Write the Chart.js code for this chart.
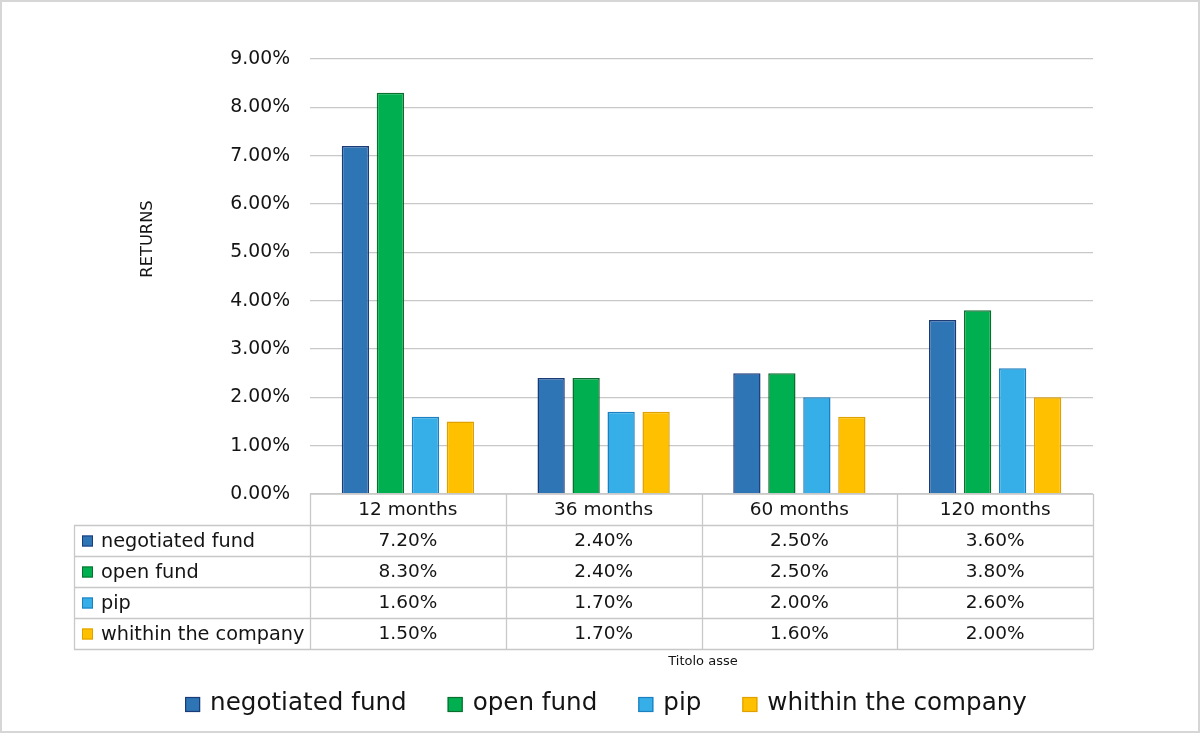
<!DOCTYPE html>
<html>
<head>
<meta charset="utf-8">
<script src="https://cdn.jsdelivr.net/npm/chart.js@4"></script>
<style>
  html, body { margin: 0; padding: 0; background: #fff; }
  #wrap { width: 1200px; height: 733px; position: relative; }
</style>
</head>
<body>
<div id="wrap"><canvas id="c"></canvas></div>
<script>
const categories = ['12 months', '36 months', '60 months', '120 months'];
const seriesNames = ['negotiated fund', 'open fund', 'pip', 'whithin the company'];
const negotiatedFund = [7.2, 2.4, 2.5, 3.6];
const openFund = [8.3, 2.4, 2.5, 3.8];
const pip = [1.6, 1.7, 2.0, 2.6];
const withinCompany = [1.5, 1.7, 1.6, 2.0];
const yTicks = [0, 1, 2, 3, 4, 5, 6, 7, 8, 9];
const yTitle = 'RETURNS';
const xTitle = 'Titolo asse';

const fills = ['#2e75b6', '#00b050', '#36aee8', '#ffc000'];
const borders = ['#1a3a78', '#0a6e2e', '#1b7fc0', '#e0a000'];
const seriesData = [negotiatedFund, openFund, pip, withinCompany];
const FONT = '"DejaVu Sans", "Open Sans", sans-serif';
const TXT = '#141414';
const GRID = '#c8c8c8';
const fmt = v => v.toFixed(2) + '%';

const decorPlugin = {
  id: 'decor',
  beforeDraw(chart) {
    const ctx = chart.ctx;
    ctx.save();
    ctx.fillStyle = '#fff';
    ctx.fillRect(0, 0, chart.width, chart.height);
    ctx.strokeStyle = '#d6d6d6';
    ctx.lineWidth = 2;
    ctx.strokeRect(1, 1, chart.width - 2, chart.height - 2);
    ctx.restore();
  },
  afterDraw(chart) {
    const ctx = chart.ctx;
    const ca = chart.chartArea;
    const xs = chart.scales.x;
    const n = categories.length;
    const cw = (ca.right - ca.left) / n;
    const rowH = 31;
    const tableLeft = 74;
    const top = ca.bottom;
    const bounds = [];
    for (let i = 0; i <= n; i++) bounds.push(i < n ? xs.getPixelForValue(i) - cw / 2 : xs.getPixelForValue(n - 1) + cw / 2);
    ctx.save();
    ctx.strokeStyle = GRID;
    ctx.lineWidth = 1.3;
    ctx.beginPath();
    ctx.moveTo(bounds[0], top); ctx.lineTo(bounds[n], top);
    for (let r = 1; r <= seriesNames.length + 1; r++) {
      const y = Math.round(top + r * rowH) + 0.5;
      ctx.moveTo(tableLeft, y); ctx.lineTo(bounds[n], y);
    }
    const bottom = top + (seriesNames.length + 1) * rowH;
    for (let i = 0; i <= n; i++) {
      const x = Math.round(bounds[i]) + 0.5;
      ctx.moveTo(x, top); ctx.lineTo(x, bottom + 0.5);
    }
    ctx.moveTo(tableLeft + 0.5, top + rowH); ctx.lineTo(tableLeft + 0.5, bottom + 0.5);
    ctx.stroke();

    ctx.fillStyle = TXT;
    ctx.font = '18.5px ' + FONT;
    ctx.textAlign = 'center';
    ctx.textBaseline = 'middle';
    categories.forEach((c, i) => ctx.fillText(c, xs.getPixelForValue(i), top + rowH / 2 + 1));
    seriesNames.forEach((s, r) => {
      const yc = top + (r + 1) * rowH + rowH / 2 + 1;
      ctx.fillStyle = fills[r];
      ctx.fillRect(82, yc - 6, 11, 11);
      ctx.strokeStyle = borders[r];
      ctx.lineWidth = 1;
      ctx.strokeRect(82.5, yc - 5.5, 10, 10);
      ctx.fillStyle = TXT;
      ctx.textAlign = 'left';
      ctx.font = '19.3px ' + FONT;
      ctx.fillText(s, 101, yc);
      ctx.font = '18.5px ' + FONT;
      ctx.textAlign = 'center';
      seriesData[r].forEach((v, i) => ctx.fillText(fmt(v), xs.getPixelForValue(i), yc));
    });

    // axis titles
    ctx.font = '13px ' + FONT;
    ctx.fillText(xTitle, 703, 662);
    ctx.save();
    ctx.translate(148, 239);
    ctx.rotate(-Math.PI / 2);
    ctx.font = '16.3px ' + FONT;
    ctx.fillText(yTitle, 0, 0);
    ctx.restore();

    // legend
    ctx.font = '24.6px ' + FONT;
    ctx.textAlign = 'left';
    const box = 15, gapBT = 10, gapItem = 41;
    const widths = seriesNames.map(s => ctx.measureText(s).width);
    const total = widths.reduce((a, w) => a + box + gapBT + w, 0) + gapItem * (seriesNames.length - 1);
    let x = 606 - total / 2;
    const ly = 704;
    seriesNames.forEach((s, i) => {
      ctx.fillStyle = fills[i];
      ctx.fillRect(x, ly - 7, box, box);
      ctx.strokeStyle = borders[i];
      ctx.lineWidth = 1.2;
      ctx.strokeRect(x + 0.5, ly - 6.5, box - 1, box - 1);
      ctx.fillStyle = TXT;
      ctx.fillText(s, x + box + gapBT, ly);
      x += box + gapBT + widths[i] + gapItem;
    });
    ctx.restore();
  }
};

new Chart(document.getElementById('c'), {
  type: 'bar',
  data: {
    labels: categories,
    datasets: seriesNames.map((s, i) => ({
      label: s,
      data: seriesData[i],
      backgroundColor: fills[i],
      borderColor: borders[i],
      borderWidth: 1.5,
      categoryPercentage: 0.715,
      barPercentage: 0.78
    }))
  },
  options: {
    responsive: true,
    maintainAspectRatio: false,
    animation: false,
    layout: { padding: { left: 0, top: 59, right: 107, bottom: 239 } },
    plugins: { legend: { display: false }, tooltip: { enabled: false } },
    scales: {
      x: { display: false },
      y: {
        min: 0,
        max: yTicks[yTicks.length - 1],
        afterFit(s) { s.width = 310; },
        afterBuildTicks(s) { s.ticks = yTicks.map(v => ({ value: v })); },
        border: { display: false },
        grid: { color: GRID, lineWidth: 1.3, drawTicks: false },
        ticks: {
          padding: 20,
          color: TXT,
          font: { family: FONT, size: 18.8 },
          callback: v => fmt(v)
        }
      }
    }
  },
  plugins: [decorPlugin]
});
</script>
</body>
</html>
